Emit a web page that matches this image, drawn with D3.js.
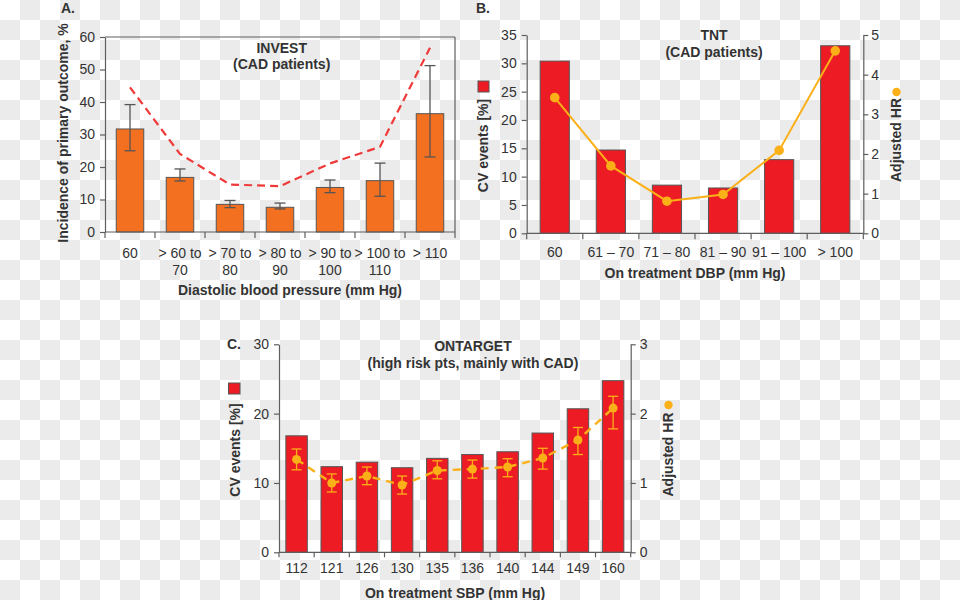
<!DOCTYPE html>
<html>
<head>
<meta charset="utf-8">
<script src="https://cdn.jsdelivr.net/npm/d3@7"></script>
<style>
  html, body { margin: 0; padding: 0; }
  body {
    width: 960px; height: 600px; overflow: hidden;
    background-color: #ffffff;
    background-image: conic-gradient(#ebebeb 25%, #ffffff 0 50%, #ebebeb 0 75%, #ffffff 0);
    background-size: 40px 40px;
    font-family: "Liberation Sans", Arial, Helvetica, sans-serif;
  }
  svg { display: block; }
  text { fill: #333333; font-family: "Liberation Sans", Arial, Helvetica, sans-serif; }
</style>
</head>
<body>
<svg id="chart" width="960" height="600"></svg>
<script>
// ---------- DATA ----------
// Panel A: INVEST
const catsA = ["60", "> 60 to\n70", "> 70 to\n80", "> 80 to\n90", "> 90 to\n100", "> 100 to\n110", "> 110"];
const incidenceA = [31.7, 16.8, 8.5, 7.6, 13.7, 15.8, 36.4];
const errLowA = [25.0, 15.7, 7.5, 7.1, 12.1, 11.0, 23.1];
const errHighA = [39.2, 19.4, 9.7, 8.9, 16.0, 21.2, 51.2];
const dashedA = [44.5, 24.0, 14.6, 14.1, 21.1, 26.2, 56.7];
const yTicksA = [0, 10, 20, 30, 40, 50, 60];

// Panel B: TNT
const catsB = ["60", "61 – 70", "71 – 80", "81 – 90", "91 – 100", "> 100"];
const eventsB = [30.4, 14.7, 8.5, 8.0, 13.0, 33.1];
const hrB = [3.42, 1.70, 0.81, 0.98, 2.09, 4.60];
const yTicksB = [0, 5, 10, 15, 20, 25, 30, 35];
const y2TicksB = [0, 1, 2, 3, 4, 5];

// Panel C: ONTARGET
const catsC = ["112", "121", "126", "130", "135", "136", "140", "144", "149", "160"];
const eventsC = [16.8, 12.35, 13.0, 12.2, 13.55, 14.1, 14.5, 17.2, 20.7, 24.75];
const hrC = [1.34, 1.00, 1.10, 0.97, 1.18, 1.20, 1.23, 1.36, 1.62, 2.08];
const hrLowC = [1.19, 0.87, 0.975, 0.84, 1.06, 1.07, 1.09, 1.20, 1.41, 1.78];
const hrHighC = [1.49, 1.13, 1.23, 1.10, 1.32, 1.33, 1.35, 1.50, 1.80, 2.25];
const yTicksC = [0, 10, 20, 30];
const y2TicksC = [0, 1, 2, 3];

// ---------- STYLE ----------
const AXIS = "#5e5e5e";
const ORANGE_BAR = "#f37021";
const RED_BAR = "#ed1c24";
const BAR_STROKE = "#555555";
const LINE_ORANGE = "#fbb017";
const DASH_RED = "#ef3a3a";
const fmtInt = d3.format("d");

const svg = d3.select("#chart");

function styleAxis(g) {
  g.selectAll("path.domain").attr("stroke", AXIS).attr("stroke-width", 1.2);
  g.selectAll(".tick line").attr("stroke", AXIS).attr("stroke-width", 1.2);
  g.selectAll(".tick text").attr("fill", "#333").style("font-size", "14px")
    .style("font-family", '"Liberation Sans", Arial, sans-serif');
}

function bandAxis(g, xb, cats, y0, tickLen, labelY, lineGap) {
  const [r0, r1] = xb.range();
  g.append("line").attr("x1", r0).attr("x2", r1).attr("y1", y0).attr("y2", y0)
    .attr("stroke", AXIS).attr("stroke-width", 1.2);
  const bounds = cats.map(c => xb(c)).concat([r1]);
  g.selectAll("line.bt").data(bounds).join("line").attr("class", "bt")
    .attr("x1", d => d).attr("x2", d => d).attr("y1", y0).attr("y2", y0 + tickLen)
    .attr("stroke", AXIS).attr("stroke-width", 1.2);
  cats.forEach(c => {
    const lines = c.split("\n");
    const t = g.append("text").attr("text-anchor", "middle")
      .attr("x", xb(c) + xb.bandwidth() / 2).attr("y", labelY)
      .style("font-size", "14px");
    lines.forEach((ln, i) => {
      t.append("tspan").attr("x", xb(c) + xb.bandwidth() / 2)
        .attr("dy", i === 0 ? "0.35em" : lineGap + "px").text(ln);
    });
  });
}

function barX(xb, c, frac) {
  return xb(c) + xb.bandwidth() * (1 - frac) / 2;
}
function cx(xb, c) { return xb(c) + xb.bandwidth() / 2; }

function label(x, y, txt, opts = {}) {
  const t = svg.append("text").attr("x", x).attr("y", y).attr("dy", "0.35em")
    .attr("text-anchor", opts.anchor || "middle")
    .style("font-size", (opts.size || 14) + "px")
    .style("font-weight", opts.bold === false ? "normal" : "bold")
    .text(txt);
  if (opts.rotate) t.attr("transform", `rotate(-90,${x},${y})`);
  return t;
}

// ================= PANEL A =================
(function () {
  const L = 105, R = 455, T = 37, B = 232;
  const xb = d3.scaleBand().domain(catsA).range([L, R]).padding(0);
  const y = d3.scaleLinear().domain([0, 60]).range([B, T]);
  const g = svg.append("g");

  g.append("line").attr("x1", L).attr("x2", R).attr("y1", T).attr("y2", T).attr("stroke", AXIS).attr("stroke-width", 1.2);
  g.append("line").attr("x1", R).attr("x2", R).attr("y1", T).attr("y2", B).attr("stroke", AXIS).attr("stroke-width", 1.2);

  const ya = g.append("g").attr("transform", `translate(${L},0)`)
    .call(d3.axisLeft(y).tickValues(yTicksA).tickFormat(fmtInt).tickSize(5).tickPadding(5).tickSizeOuter(0));
  styleAxis(ya);

  const frac = 0.55;
  g.selectAll("rect.bar").data(catsA).join("rect").attr("class", "bar")
    .attr("x", c => barX(xb, c, frac)).attr("width", xb.bandwidth() * frac)
    .attr("y", (c, i) => y(incidenceA[i])).attr("height", (c, i) => y(0) - y(incidenceA[i]))
    .attr("fill", ORANGE_BAR).attr("stroke", BAR_STROKE).attr("stroke-width", 1);

  const cap = 5.5;
  catsA.forEach((c, i) => {
    const x = cx(xb, c);
    g.append("line").attr("x1", x).attr("x2", x).attr("y1", y(errLowA[i])).attr("y2", y(errHighA[i]))
      .attr("stroke", "#555").attr("stroke-width", 1.3);
    [errLowA[i], errHighA[i]].forEach(v => {
      g.append("line").attr("x1", x - cap).attr("x2", x + cap).attr("y1", y(v)).attr("y2", y(v))
        .attr("stroke", "#555").attr("stroke-width", 1.3);
    });
  });

  const line = d3.line().x((d, i) => cx(xb, catsA[i])).y(d => y(d));
  g.append("path").datum(dashedA).attr("d", line).attr("fill", "none")
    .attr("stroke", DASH_RED).attr("stroke-width", 2.2).attr("stroke-dasharray", "8,5");

  bandAxis(g, xb, catsA, B, 6, 253, 17);

  label(281.7, 48, "INVEST");
  label(281.7, 64.5, "(CAD patients)");
  label(68, 8, "A.", { size: 14 });
  label(290, 290, "Diastolic blood pressure (mm Hg)");
  label(63, 133, "Incidence of primary outcome, %", { rotate: true });
})();

// ================= PANEL B =================
(function () {
  const L = 526.7, R = 863.3, T = 35, B = 233.3;
  const xb = d3.scaleBand().domain(catsB).range([L, R]).padding(0);
  const y = d3.scaleLinear().domain([0, 35]).range([B, T]);
  const y2 = d3.scaleLinear().domain([0, 5]).range([B, T]);
  const g = svg.append("g");

  const ya = g.append("g").attr("transform", `translate(${L},0)`)
    .call(d3.axisLeft(y).tickValues(yTicksB).tickFormat(fmtInt).tickSize(5).tickPadding(5).tickSizeOuter(0));
  styleAxis(ya);
  const yb = g.append("g").attr("transform", `translate(${R},0)`)
    .call(d3.axisRight(y2).tickValues(y2TicksB).tickFormat(fmtInt).tickSize(5).tickPadding(3).tickSizeOuter(0));
  styleAxis(yb);

  const frac = 0.52;
  g.selectAll("rect.bar").data(catsB).join("rect").attr("class", "bar")
    .attr("x", c => barX(xb, c, frac)).attr("width", xb.bandwidth() * frac)
    .attr("y", (c, i) => y(eventsB[i])).attr("height", (c, i) => y(0) - y(eventsB[i]))
    .attr("fill", RED_BAR).attr("stroke", BAR_STROKE).attr("stroke-width", 1);

  const line = d3.line().x((d, i) => cx(xb, catsB[i])).y(d => y2(d));
  g.append("path").datum(hrB).attr("d", line).attr("fill", "none")
    .attr("stroke", LINE_ORANGE).attr("stroke-width", 2);
  g.selectAll("circle.pt").data(hrB).join("circle").attr("class", "pt")
    .attr("cx", (d, i) => cx(xb, catsB[i])).attr("cy", d => y2(d)).attr("r", 4.8)
    .attr("fill", LINE_ORANGE);

  bandAxis(g, xb, catsB, B, 6, 251.7, 17);

  label(714, 35, "TNT");
  label(714, 52, "(CAD patients)");
  label(483, 8, "B.", { size: 14 });
  label(695, 273.5, "On treatment DBP (mm Hg)");
  label(483, 145.5, "CV events [%]", { rotate: true });
  g.append("rect").attr("x", 478).attr("y", 81).attr("width", 11).attr("height", 11)
    .attr("fill", RED_BAR).attr("stroke", BAR_STROKE).attr("stroke-width", 1);
  label(896.5, 140, "Adjusted HR", { rotate: true });
  g.append("circle").attr("cx", 896.5).attr("cy", 92).attr("r", 4.2).attr("fill", LINE_ORANGE);
})();

// ================= PANEL C =================
(function () {
  const L = 279, R = 630.7, T = 344.3, B = 552.3;
  const xb = d3.scaleBand().domain(catsC).range([L, R]).padding(0);
  const y = d3.scaleLinear().domain([0, 30]).range([B, T]);
  const y2 = d3.scaleLinear().domain([0, 3]).range([B, T]);
  const g = svg.append("g");

  const ya = g.append("g").attr("transform", `translate(${L},0)`)
    .call(d3.axisLeft(y).tickValues(yTicksC).tickFormat(fmtInt).tickSize(5).tickPadding(5).tickSizeOuter(0));
  styleAxis(ya);
  const yb = g.append("g").attr("transform", `translate(${R},0)`)
    .call(d3.axisRight(y2).tickValues(y2TicksC).tickFormat(fmtInt).tickSize(5).tickPadding(4).tickSizeOuter(0));
  styleAxis(yb);

  const frac = 0.61;
  g.selectAll("rect.bar").data(catsC).join("rect").attr("class", "bar")
    .attr("x", c => barX(xb, c, frac)).attr("width", xb.bandwidth() * frac)
    .attr("y", (c, i) => y(eventsC[i])).attr("height", (c, i) => y(0) - y(eventsC[i]))
    .attr("fill", RED_BAR).attr("stroke", BAR_STROKE).attr("stroke-width", 1);

  const line = d3.line().x((d, i) => cx(xb, catsC[i])).y(d => y2(d));
  g.append("path").datum(hrC).attr("d", line).attr("fill", "none")
    .attr("stroke", LINE_ORANGE).attr("stroke-width", 2.4).attr("stroke-dasharray", "8,6");

  const cap = 5;
  catsC.forEach((c, i) => {
    const x = cx(xb, c);
    g.append("line").attr("x1", x).attr("x2", x).attr("y1", y2(hrLowC[i])).attr("y2", y2(hrHighC[i]))
      .attr("stroke", LINE_ORANGE).attr("stroke-width", 1.3);
    [hrLowC[i], hrHighC[i]].forEach(v => {
      g.append("line").attr("x1", x - cap).attr("x2", x + cap).attr("y1", y2(v)).attr("y2", y2(v))
        .attr("stroke", LINE_ORANGE).attr("stroke-width", 1.3);
    });
  });
  g.selectAll("circle.pt").data(hrC).join("circle").attr("class", "pt")
    .attr("cx", (d, i) => cx(xb, catsC[i])).attr("cy", d => y2(d)).attr("r", 4.5)
    .attr("fill", LINE_ORANGE);

  bandAxis(g, xb, catsC, B, 5, 568, 17);

  label(473, 346, "ONTARGET");
  label(473, 363, "(high risk pts, mainly with CAD)");
  label(234, 344, "C.", { size: 14 });
  label(455, 593, "On treatment SBP (mm Hg)");
  label(235, 450, "CV events [%]", { rotate: true });
  g.append("rect").attr("x", 228.5).attr("y", 383).attr("width", 11.5).attr("height", 11)
    .attr("fill", RED_BAR).attr("stroke", BAR_STROKE).attr("stroke-width", 1);
  label(668.5, 454.5, "Adjusted HR", { rotate: true });
  g.append("circle").attr("cx", 668.5).attr("cy", 405).attr("r", 4.2).attr("fill", LINE_ORANGE);
})();
</script>
</body>
</html>
